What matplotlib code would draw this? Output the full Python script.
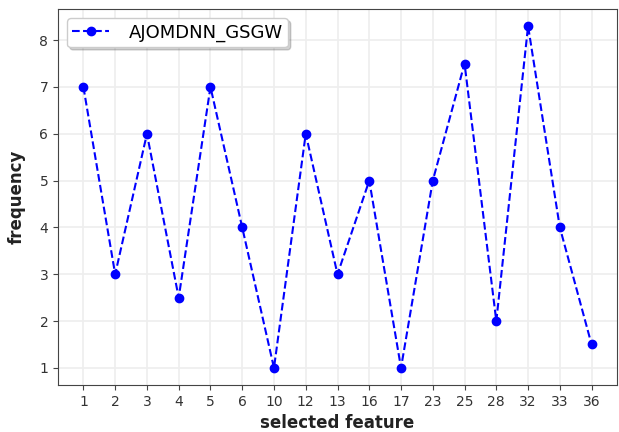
import matplotlib
matplotlib.use('Agg')
import matplotlib.pyplot as plt

features = ['1', '2', '3', '4', '5', '6', '10', '12', '13', '16', '17',
            '23', '25', '28', '32', '33', '36']
frequency = [7, 3, 6, 2.5, 7, 4, 1, 6, 3, 5, 1, 5, 7.5, 2, 8.3, 4, 1.5]

fig = plt.figure(figsize=(6.19, 4.32), dpi=100)
ax = fig.add_axes([58/619, 47/432, 559/619, 376/432])

ax.plot(features, frequency, 'b--o', label='AJOMDNN_GSGW')
ax.grid(True, color='#eeeeee', linewidth=1.2)
ax.set_axisbelow(True)
ax.set_xlabel('selected feature', fontweight='bold', fontsize=12, color='#222222')
ax.set_ylabel('frequency', fontweight='bold', fontsize=12, color='#222222', labelpad=10)
ax.tick_params(labelsize=10, labelcolor='#333333', color='#444444')
for s in ax.spines.values():
    s.set_color('#444444')

leg = ax.legend(loc='upper left', shadow={'alpha': 0.25}, fontsize=13,
                fancybox=True, handlelength=2.0, handletextpad=1.1,
                borderpad=0.3)

plt.savefig('out.png')
